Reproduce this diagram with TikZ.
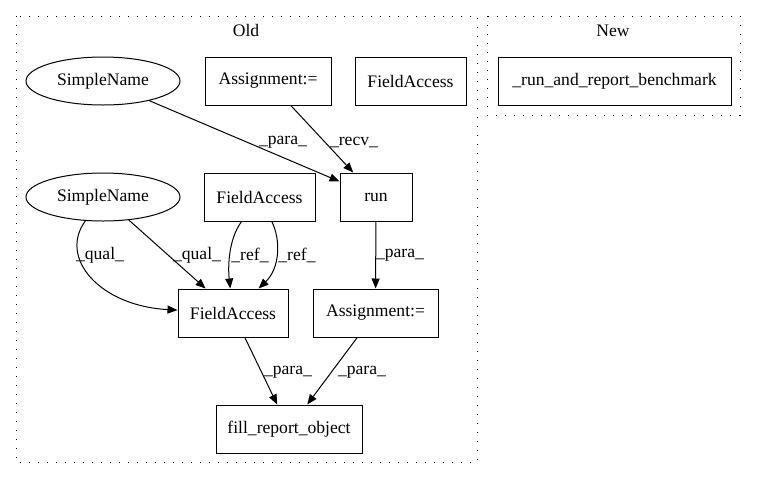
\documentclass[tikz,border=0pt]{standalone}
\usepackage{fontspec}
\setmainfont{Liberation Serif}
\usetikzlibrary{shapes.geometric,arrows.meta}

\begin{document}
\begin{tikzpicture}[x=1pt,y=-1pt,font=\fontsize{17.6}{20}\selectfont,
	box/.style={draw, line width=1pt, minimum height=48pt, inner sep=0pt},
	sname/.style={ellipse, draw, line width=1pt, minimum width=154pt, minimum height=48pt, inner sep=0pt},
	cluster/.style={line width=1pt, dash pattern=on 1.2pt off 7.8pt},
	lbl/.style={inner sep=0pt},
	arr/.style={-{Triangle[length=10pt,width=8pt]}, line width=1pt}]
	\useasboundingbox (0,0) rectangle (757,480);
	\draw[cluster] (16,16) rectangle (477,462);
	\draw[cluster] (487,16) rectangle (740,115);
	\node (old) at (246,30) {Old};
	\node (new) at (613,31) {New};
	\node[sname] (sn1) at (103,81) {SimpleName};
	\node[box, minimum width=126pt] (asg1) at (268,81) {Assignment:=};
	\node[box, minimum width=111pt] (fa1) at (410.5,81) {FieldAccess};
	\node[sname] (sn2) at (103,197) {SimpleName};
	\node[box, minimum width=111pt] (fa2) at (259.5,197) {FieldAccess};
	\node[box, minimum width=72pt] (run) at (376,197) {run};
	\node[box, minimum width=110pt] (fa3) at (233,313) {FieldAccess};
	\node[box, minimum width=125pt] (asg2) at (375.5,313) {Assignment:=};
	\node[box, minimum width=146pt] (fill) at (289,429) {fill\_report\_object};
	\node[box, minimum width=233pt] (bench) at (614.5,81) {\_run\_and\_report\_benchmark};
	\draw[arr] (sn1) -- (run) node[lbl] (l1) at (283,142) {\_para\_};
	\draw[arr] (asg1) -- (run) node[lbl] (l2) at (354,142) {\_recv\_};
	\draw[arr] (sn2) .. controls (58,258) and (100,306) .. (fa3) node[lbl] (l3) at (100,255) {\_qual\_};
	\draw[arr] (sn2) -- (fa3) node[lbl] (l4) at (197,255) {\_qual\_};
	\draw[arr] (fa2) .. controls (228,240) and (228,268) .. (fa3) node[lbl] (l5) at (250,255) {\_ref\_};
	\draw[arr] (fa2) .. controls (281,240) and (280,268) .. (fa3) node[lbl] (l6) at (297,255) {\_ref\_};
	\draw[arr] (run) -- (asg2) node[lbl] (l7) at (400,255) {\_para\_};
	\draw[arr] (fa3) -- (fill) node[lbl] (l8) at (288,372) {\_para\_};
	\draw[arr] (asg2) -- (fill) node[lbl] (l9) at (362,372) {\_para\_};
\end{tikzpicture}
\end{document}
